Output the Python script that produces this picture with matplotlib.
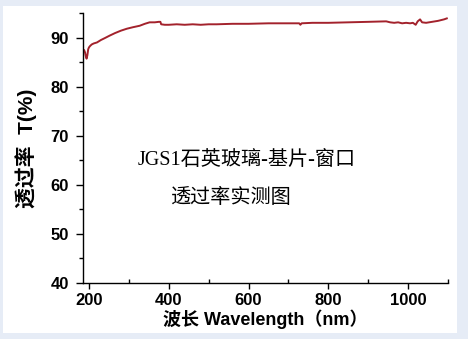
import matplotlib
matplotlib.use("Agg")
import matplotlib.pyplot as plt
from matplotlib.patches import Rectangle
from matplotlib.ticker import MultipleLocator

wavelength = [188, 190, 192, 194, 196, 198, 200, 203, 207, 212, 220, 230, 240, 252,
              265, 280, 295, 310, 327, 340, 352, 365, 375, 379, 381, 390, 400, 420,
              440, 460, 480, 500, 520, 560, 600, 650, 700, 727, 730, 733, 760, 800,
              850, 900, 945, 955, 965, 975, 985, 995, 1005, 1012, 1019, 1024, 1030,
              1035, 1045, 1060, 1075, 1090, 1097]
transmittance = [87.4, 87.0, 86.2, 85.7, 86.4, 87.6, 88.0, 88.3, 88.6, 88.8, 89.0, 89.5,
                 89.9, 90.4, 90.9, 91.4, 91.8, 92.1, 92.4, 92.8, 93.1, 93.1, 93.2, 93.2,
                 92.7, 92.6, 92.6, 92.7, 92.6, 92.7, 92.6, 92.7, 92.7, 92.8, 92.8, 92.9,
                 92.9, 92.9, 92.6, 92.9, 93.0, 93.0, 93.1, 93.2, 93.3, 93.1, 93.0, 93.1,
                 92.9, 93.0, 92.9, 93.0, 92.6, 93.3, 93.7, 93.1, 93.0, 93.2, 93.4, 93.7, 93.9]

x_ticks = [200, 400, 600, 800, 1000]
y_ticks = [40, 50, 60, 70, 80, 90]

fig = plt.figure(figsize=(4.68, 3.39), dpi=100)
fig.patch.set_facecolor("#e6ecf6")
# 白色面板
fig.patches.append(Rectangle((3 / 468, 6 / 339), 454 / 468, 327 / 339,
                             transform=fig.transFigure, facecolor="white",
                             edgecolor="none", zorder=-10))

ax = fig.add_axes([83 / 468, 56 / 339, 365 / 468, 270 / 339])
ax.set_zorder(1)
ax.set_facecolor("none")
ax.plot(wavelength, transmittance, color="#a3222c", linewidth=1.4)

ax.set_xlim(185, 1100)
ax.set_ylim(40, 95)
ax.set_xticks(x_ticks)
ax.set_yticks(y_ticks)
ax.xaxis.set_minor_locator(MultipleLocator(100))
ax.yaxis.set_minor_locator(MultipleLocator(5))

for side in ["top", "right"]:
    ax.spines[side].set_visible(False)
for side in ["left", "bottom"]:
    ax.spines[side].set_linewidth(1.0)

ax.tick_params(axis="x", which="major", direction="out", length=4, width=1, pad=3)
ax.tick_params(axis="x", which="minor", direction="in", length=3, width=1)
ax.tick_params(axis="y", which="major", direction="out", length=5, width=1, pad=5)
ax.tick_params(axis="y", which="minor", direction="out", length=3, width=1)

for lab in ax.get_xticklabels() + ax.get_yticklabels():
    lab.set_fontfamily("Liberation Sans")
    lab.set_fontweight("bold")
    lab.set_fontsize(12)

ax.set_xlabel("波长 Wavelength（nm）", family=["Liberation Sans", "Noto Sans CJK SC"],
              fontweight="bold", fontsize=13, labelpad=1)
ax.set_ylabel("透过率  T(%)", family=["Liberation Sans", "Noto Sans CJK SC"],
              fontweight="bold", fontsize=15, labelpad=10)

ax.text(595, 64.8, "JGS1石英玻璃-基片-窗口", family=["Liberation Serif", "Noto Sans CJK SC"],
        fontsize=14.5, ha="center", va="center")
ax.text(555, 57.5, "透过率实测图", family=["Noto Sans CJK SC"],
        fontsize=14.5, ha="center", va="center")

fig.savefig("out.png", dpi=100, facecolor=fig.get_facecolor())
